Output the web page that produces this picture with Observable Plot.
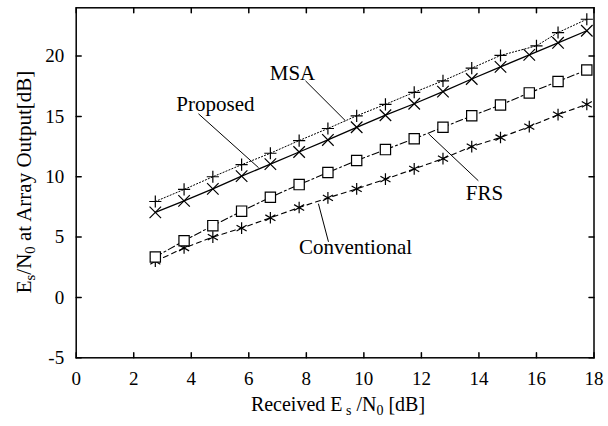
<!DOCTYPE html>
<html><head><meta charset="utf-8">
<script src="https://cdn.jsdelivr.net/npm/d3@7"></script>
<script src="https://cdn.jsdelivr.net/npm/@observablehq/plot@0.6"></script>
<style>body{margin:0;background:#fff} svg{display:block} svg text{font-family:"Liberation Serif","DejaVu Serif",serif !important}</style>
</head><body><div id="chart"></div>
<script>
// x positions (received Es/N0, dB)
const xs = [2.75,3.75,4.75,5.75,6.75,7.75,8.75,9.75,10.75,11.75,12.75,13.75,14.75,15.75,16.75,17.75];
const msaX = [2.75,3.75,4.75,5.75,6.75,7.75,8.75,9.75,10.75,11.75,12.75,13.75,14.75,16.0,16.75,17.75];
// series values (output Es/N0, dB)
const msa = [7.95,8.95,10.0,11.0,11.95,13.0,14.0,15.05,16.0,17.0,17.95,19.0,20.05,20.85,21.95,23.05];
const proposed = [7.05,8.0,9.0,10.05,11.05,12.05,13.05,14.1,15.1,16.05,17.05,18.1,19.1,20.1,21.1,22.1];
const frs = [3.35,4.7,5.95,7.15,8.3,9.35,10.35,11.35,12.25,13.15,14.1,15.05,15.95,16.95,17.9,18.85];
const conventional = [3.0,4.1,5.0,5.75,6.6,7.45,8.25,9.0,9.8,10.65,11.5,12.5,13.25,14.15,15.15,16.0];
// ticks
const xTicks = [0,2,4,6,8,10,12,14,16,18];
const yTicks = [-5,0,5,10,15,20];
// annotation labels and leader lines (data coordinates)
const labels = ["MSA","Proposed","FRS","Conventional"];
const labelX = [7.52,4.84,14.19,9.71];
const labelY = [18.54,16.04,8.67,4.12];
const leadX1 = [7.97,4.25,12.25,8.42];
const leadY1 = [17.95,15.22,13.56,7.77];
const leadX2 = [9.36,6.34,13.98,8.77];
const leadY2 = [14.64,10.75,9.67,4.61];

const toRows = (xv, yv) => xv.map((x, i) => ({x, y: yv[i]}));
const msaData = toRows(msaX, msa);
const propData = toRows(xs, proposed);
const frsData = toRows(xs, frs);
const convData = toRows(xs, conventional);
const annot = labels.map((t, i) => ({t, x: labelX[i], y: labelY[i], x1: leadX1[i], y1: leadY1[i], x2: leadX2[i], y2: leadY2[i]}));

const font = '"Liberation Serif", "DejaVu Serif", serif';
const tickShape = {draw(ctx, l) { ctx.moveTo(0, 0); ctx.lineTo(0, -l); }};
const tl = 5;

const chart = Plot.plot({
  width: 608, height: 426,
  marginLeft: 75.7, marginRight: 14.5, marginTop: 7.3, marginBottom: 68.7,
  style: {fontFamily: font, background: "#fff", color: "#000"},
  x: {domain: [0, 18]},
  y: {domain: [-5, 24]},
  marks: [
    Plot.axisX(xTicks, {tickSize: 0, tickPadding: 14, fontSize: 19, label: null, tickFormat: d => String(d)}),
    Plot.axisY(yTicks, {tickSize: 0, tickPadding: 12, fontSize: 19, label: null, tickFormat: d => String(d)}),
    Plot.vector(xTicks, {x: d => d, frameAnchor: "bottom", length: tl, rotate: 0, anchor: "start", shape: tickShape, stroke: "#000"}),
    Plot.vector(xTicks, {x: d => d, frameAnchor: "top", length: tl, rotate: 180, anchor: "start", shape: tickShape, stroke: "#000"}),
    Plot.vector(yTicks, {y: d => d, frameAnchor: "left", length: tl, rotate: 90, anchor: "start", shape: tickShape, stroke: "#000"}),
    Plot.vector(yTicks, {y: d => d, frameAnchor: "right", length: tl, rotate: -90, anchor: "start", shape: tickShape, stroke: "#000"}),
    Plot.line(msaData, {x: "x", y: "y", stroke: "#000", strokeWidth: 1, strokeDasharray: "1.2,2"}),
    Plot.line(propData, {x: "x", y: "y", stroke: "#000", strokeWidth: 1.3}),
    Plot.line(frsData, {x: "x", y: "y", stroke: "#000", strokeWidth: 1.1, strokeDasharray: "7,3,2,3"}),
    Plot.line(convData, {x: "x", y: "y", stroke: "#000", strokeWidth: 1.1, strokeDasharray: "5,4"}),
    Plot.link(annot, {x1: "x1", y1: "y1", x2: "x2", y2: "y2", stroke: "#000", strokeWidth: 1}),
    Plot.dot(convData, {x: "x", y: "y", symbol: "asterisk", r: 5.5, stroke: "#000", strokeWidth: 1.2}),
    Plot.dot(frsData, {x: "x", y: "y", symbol: "square", r: 5.8, stroke: "#000", fill: "#fff", strokeWidth: 1.2}),
    Plot.dot(propData, {x: "x", y: "y", symbol: "times", r: 5.3, stroke: "#000", strokeWidth: 1.2}),
    Plot.dot(msaData, {x: "x", y: "y", symbol: "plus", r: 4, stroke: "#000", strokeWidth: 1.2}),
    Plot.text(annot, {x: "x", y: "y", text: "t", fontSize: 21, fill: "#000"}),
    Plot.frame({stroke: "#000", strokeWidth: 1.5})
  ]
});
document.getElementById("chart").append(chart);

const svg = d3.select(chart);
const sub = (t, parts) => {
  parts.forEach(([s, isSub]) => {
    const ts = t.append("tspan").text(s);
    if (isSub) ts.attr("font-size", "0.7em").attr("baseline-shift", "-0.28em");
  });
};
const xl = svg.append("text").attr("x", 338).attr("y", 411).attr("text-anchor", "middle")
  .attr("font-family", font).attr("font-size", 20).attr("fill", "#000");
sub(xl, [["Received E", false], [" s", true], [" /N", false], ["0", true], [" [dB]", false]]);
const yl = svg.append("text").attr("transform", "translate(31,182) rotate(-90)").attr("text-anchor", "middle")
  .attr("font-family", font).attr("font-size", 21).attr("fill", "#000");
sub(yl, [["E", false], ["s", true], ["/N", false], ["0", true], [" at Array Output[dB]", false]]);
</script></body></html>
